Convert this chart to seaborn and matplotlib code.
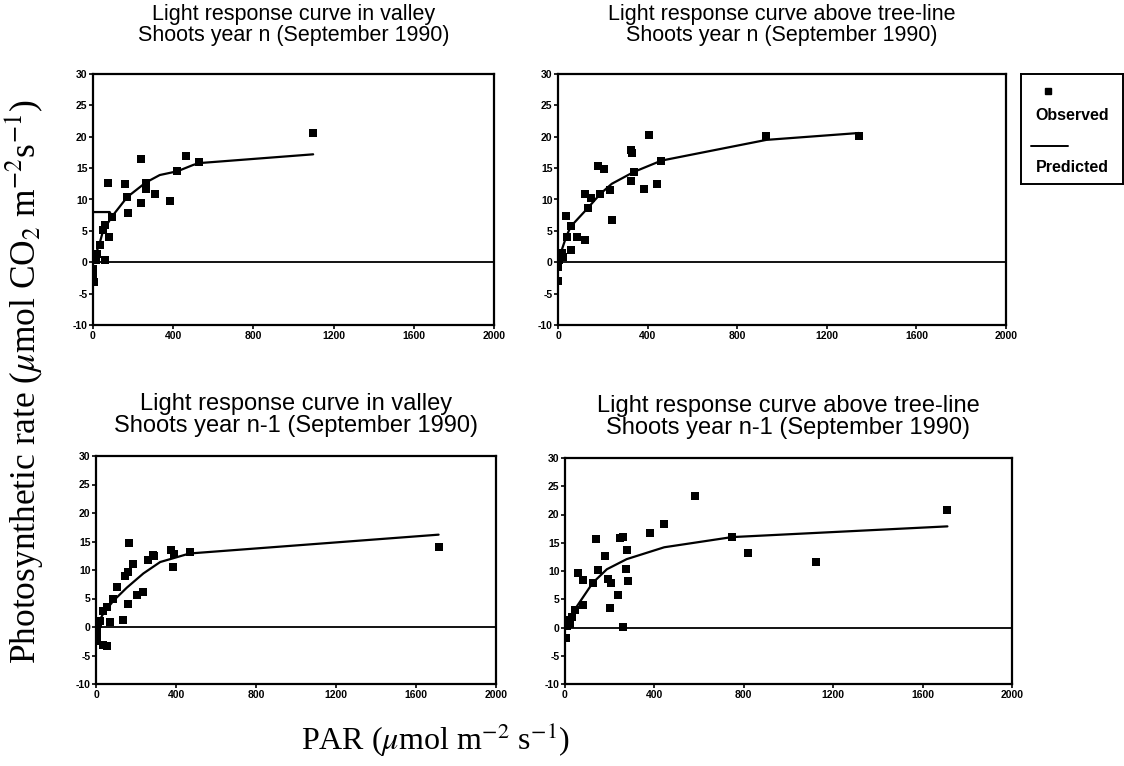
import numpy as np
import pandas as pd
import matplotlib
matplotlib.use('Agg')
import matplotlib.pyplot as plt
import seaborn as sns

# --- Data (PAR, photosynthetic rate) ---
titles = [
    'Light response curve in valley\nShoots year n (September 1990)',
    'Light response curve above tree-line\nShoots year n (September 1990)',
    'Light response curve in valley\nShoots year n-1 (September 1990)',
    'Light response curve above tree-line\nShoots year n-1 (September 1990)',
]

# panel 1: valley, year n
obs1_x = [1098, 238, 463, 529, 75, 160, 263, 266, 311, 171, 238, 384, 421, 173, 95,
          80, 58, 50, 33, 20, 8, 16, 58, 0, 0, 3]
obs1_y = [20.6, 16.4, 17.0, 15.9, 12.7, 12.5, 12.7, 11.7, 10.9, 10.4, 9.5, 9.75, 14.5, 7.9, 7.2,
          4.0, 6.0, 5.1, 2.7, 1.3, 0.5, 0.4, 0.3, -1.1, -2.4, -3.2]
pred1_x = [0, 83, 95, 0, 8, 33, 50, 95, 171, 263, 333, 421, 499, 529, 1098]
pred1_y = [8.0, 8.0, 7.3, -0.3, 0.8, 3.0, 5.0, 7.3, 10.4, 12.7, 13.9, 14.5, 15.5, 15.8, 17.2]
pred1_seg = [0, 0, 0, 1, 1, 1, 1, 1, 1, 1, 1, 1, 1, 1, 1]

# panel 2: above tree-line, year n
obs2_x = [1344, 930, 405, 324, 330, 177, 207, 122, 147, 189, 233, 327, 383, 440, 339, 462,
          242, 132, 37, 57, 42, 87, 122, 57, 19, 12, 24, 4, 0, 0]
obs2_y = [20.1, 20.1, 20.3, 17.9, 17.4, 15.3, 14.9, 10.9, 10.2, 10.9, 11.5, 12.9, 11.7, 12.4, 14.4, 16.2,
          6.7, 8.6, 7.3, 5.7, 4.1, 4.1, 3.6, 2.0, 1.4, 0.9, 0.9, 0.4, -0.7, -3.0]
pred2_x = [0, 20, 37, 57, 132, 189, 240, 339, 462, 930, 1344]
pred2_y = [0.0, 2.3, 4.1, 5.7, 8.6, 10.9, 12.5, 14.4, 16.2, 19.5, 20.6]
pred2_seg = [0] * len(pred2_x)

# panel 3: valley, year n-1
obs3_x = [1713, 165, 187, 162, 145, 104, 87, 53, 37, 162, 207, 237, 137, 70, 262, 284, 292,
          374, 388, 384, 468, 20, 12, 3, 7, 3, 33, 53]
obs3_y = [14.0, 14.7, 11.1, 9.6, 9.0, 7.1, 4.9, 3.5, 2.8, 4.1, 5.6, 6.1, 1.2, 0.8, 11.8, 12.6, 12.4,
          13.5, 12.8, 10.5, 13.2, 1.1, 0.5, -0.6, -1.6, -2.5, -3.2, -3.4]
pred3_x = [0, 37, 87, 154, 237, 321, 468, 1713]
pred3_y = [0.0, 2.4, 4.6, 6.9, 9.4, 11.4, 12.9, 16.2]
pred3_seg = [0] * len(pred3_x)

# panel 4: above tree-line, year n-1
obs4_x = [1711, 583, 444, 381, 747, 818, 1124, 138, 244, 258, 276, 179, 149, 272, 57, 79,
          124, 194, 205, 281, 235, 202, 259, 79, 45, 30, 0, 22, 10, 4]
obs4_y = [20.8, 23.2, 18.4, 16.8, 16.0, 13.1, 11.6, 15.7, 15.9, 16.1, 13.7, 12.6, 10.1, 10.3, 9.7, 8.4,
          7.9, 8.5, 7.9, 8.2, 5.8, 3.4, 0.1, 3.9, 3.1, 1.8, 1.3, 0.6, 0.2, -1.9]
pred4_x = [0, 37, 124, 187, 276, 444, 747, 1711]
pred4_y = [0.8, 2.8, 7.9, 10.3, 12.1, 14.2, 16.0, 17.9]
pred4_seg = [0] * len(pred4_x)

panels = [
    (obs1_x, obs1_y, pred1_x, pred1_y, pred1_seg),
    (obs2_x, obs2_y, pred2_x, pred2_y, pred2_seg),
    (obs3_x, obs3_y, pred3_x, pred3_y, pred3_seg),
    (obs4_x, obs4_y, pred4_x, pred4_y, pred4_seg),
]

x_ticks = [0, 400, 800, 1200, 1600, 2000]
y_ticks = [-10, -5, 0, 5, 10, 15, 20, 25, 30]

# --- Styling ---
sns.set_style('white')
plt.rcParams['font.family'] = ['Liberation Sans', 'DejaVu Sans']
plt.rcParams['mathtext.fontset'] = 'stix'
plt.rcParams['text.color'] = 'black'
plt.rcParams['axes.labelcolor'] = 'black'
plt.rcParams['xtick.color'] = 'black'
plt.rcParams['ytick.color'] = 'black'

W, H = 1124, 766
fig = plt.figure(figsize=(W / 100, H / 100), dpi=100)

# axes boxes in pixels: left, top, right, bottom
boxes = [(93, 74, 494, 325), (558, 74, 1006, 325),
         (96, 456, 496, 684), (565, 458, 1012, 684)]
title_sizes = [15.5, 15.5, 17, 17]
title_pads = [24, 24, 17, 17]

for i, (box, (ox, oy, px, py, ps)) in enumerate(zip(boxes, panels)):
    l, t, r, b = box
    ax = fig.add_axes([l / W, 1 - b / H, (r - l) / W, (b - t) / H])
    obs = pd.DataFrame({'PAR': ox, 'rate': oy})
    pred = pd.DataFrame({'PAR': px, 'rate': py, 'seg': ps})
    ax.axhline(0, color='black', lw=1.3, zorder=1)
    sns.lineplot(data=pred, x='PAR', y='rate', units='seg', estimator=None, sort=False,
                 color='black', lw=1.6, ax=ax, zorder=2)
    sns.scatterplot(data=obs, x='PAR', y='rate', marker='s', s=30, color='black',
                    edgecolor='black', linewidth=0, ax=ax, zorder=3)
    ax.set_xlim(0, 2000)
    ax.set_ylim(-10, 30)
    ax.set_xticks(x_ticks)
    ax.set_yticks(y_ticks)
    ax.set_xticklabels([str(v) for v in x_ticks], fontsize=7.5, fontweight='bold')
    ax.set_yticklabels([str(v) for v in y_ticks], fontsize=7.5, fontweight='bold')
    ax.tick_params(axis='both', direction='out', length=3, width=1.2, pad=1,
                   bottom=True, left=True, colors='black')
    ax.set_xlabel('')
    ax.set_ylabel('')
    for sp in ax.spines.values():
        sp.set_color('black')
        sp.set_linewidth(1.6)
    ax.set_title(titles[i], fontsize=title_sizes[i], pad=title_pads[i], linespacing=1.0,
                 color='black')

# shared axis labels
fig.text(435 / W, 1 - 740 / H, r'PAR ($\mu$mol m$^{-2}$ s$^{-1}$)', ha='center', va='center',
         fontsize=23, family='Liberation Serif')
fig.text(25 / W, 1 - 382 / H, r'Photosynthetic rate ($\mu$mol CO$_2$ m$^{-2}$s$^{-1}$)',
         ha='center', va='center', rotation=90, fontsize=25.5, family='Liberation Serif')

# legend box
lax = fig.add_axes([1021 / W, 1 - 184 / H, 102 / W, 110 / H])
lax.set_xlim(0, 1)
lax.set_ylim(0, 1)
lax.set_xticks([])
lax.set_yticks([])
for sp in lax.spines.values():
    sp.set_color('black')
    sp.set_linewidth(1.4)
lax.plot([0.26], [0.85], marker='s', ms=4, color='black', ls='none')
lax.text(0.5, 0.62, 'Observed', ha='center', va='center', fontsize=11.5, fontweight='bold')
lax.plot([0.1, 0.46], [0.35, 0.35], color='black', lw=1.4)
lax.text(0.5, 0.15, 'Predicted', ha='center', va='center', fontsize=11.5, fontweight='bold')

fig.savefig('out.png', dpi=100)
